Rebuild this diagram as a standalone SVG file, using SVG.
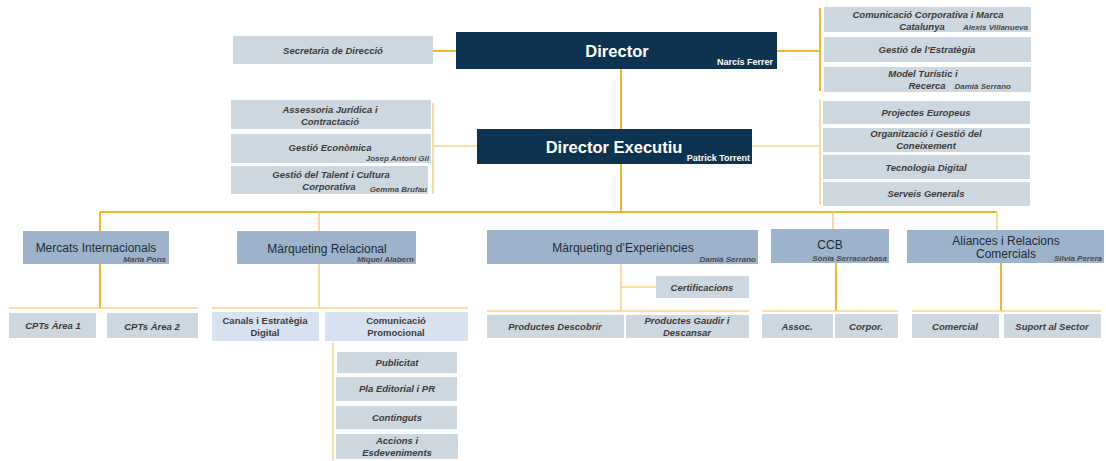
<svg xmlns="http://www.w3.org/2000/svg" width="1106" height="461" viewBox="0 0 1106 461">
<style>
.bg{fill:#ffffff}
.dir{fill:#0d3350}
.l2{fill:#9db3cb}
.gr{fill:#cdd7e0}
.lv{fill:#d8e1ef}
.c1{stroke:#f5b42a;stroke-width:2;fill:none}
.c2{stroke:#fbd488;stroke-width:1.6;fill:none}
text{font-family:"Liberation Sans","DejaVu Sans",Arial,sans-serif;text-anchor:middle}
.t{font-size:9.5px;font-style:italic;font-weight:bold;fill:#3c3c3c}
.n{font-size:8px;font-style:italic;font-weight:bold;fill:#4a4a4a;text-anchor:end}
.h1{font-size:16.5px;font-weight:bold;fill:#ffffff}
.hn{font-size:9px;font-weight:bold;fill:#ffffff;text-anchor:end}
.h2{font-size:12px;fill:#1f2a36}
.u{font-size:9.5px;font-weight:bold;fill:#3c3c3c}
</style>
<rect class="bg" x="0" y="0" width="1106" height="461"/>
<g id="connectors">
<path class="c1" d="M433,51 H456 M777,51 H820 M820,8 V91 M621,68 V129 M621,163 V212 M100,212 H997 M100,212 V231 M100,264 V308 M836,263 V311 M1001,263 V311"/>
<path class="c2" d="M433,103 V194 M433,146 H477 M752,146 H820 M820,100 V205 M9,308 H198 M319,212 V231 M319,264 V308 M212,308 H468 M621,264 V311 M621,287 H656 M487,311 H749 M833,212 V229 M762,311 H898 M997,212 V230 M912,311 H1101 M333,343 V460"/>
</g>
<g id="director">
<rect class="dir" x="456" y="32" width="321" height="37"/>
<text class="h1" x="617" y="57">Director</text>
<text class="hn" x="773" y="65">Narcís Ferrer</text>
</g>
<g id="director-executiu">
<rect class="dir" x="477" y="129" width="275" height="35"/>
<text class="h1" x="614" y="153">Director Executiu</text>
<text class="hn" x="750" y="161">Patrick Torrent</text>
</g>
<g id="secretaria">
<rect class="gr" x="233" y="36" width="200" height="28"/>
<text class="t" x="333" y="54">Secretaria de Direcció</text>
</g>
<g id="assessoria">
<rect class="gr" x="231" y="100" width="200" height="29"/>
<text class="t" x="330" y="113">Assessoria Jurídica i</text>
<text class="t" x="330" y="125">Contractació</text>
</g>
<g id="gestio-economica">
<rect class="gr" x="231" y="134" width="200" height="29"/>
<text class="t" x="330" y="151">Gestió Econòmica</text>
<text class="n" x="429" y="161">Josep Antoni Gil</text>
</g>
<g id="gestio-talent">
<rect class="gr" x="231" y="166" width="197" height="28"/>
<text class="t" x="331" y="178">Gestió del Talent i Cultura</text>
<text class="t" x="329" y="190">Corporativa</text>
<text class="n" x="427" y="192">Gemma Brufau</text>
</g>
<g id="comunicacio-corporativa">
<rect class="gr" x="824" y="7" width="207" height="25"/>
<text class="t" x="928" y="18">Comunicació Corporativa i Marca</text>
<text class="t" x="922" y="30">Catalunya</text>
<text class="n" x="1028" y="30">Alexis Villanueva</text>
</g>
<g id="gestio-estrategia">
<rect class="gr" x="824" y="37" width="207" height="25"/>
<text class="t" x="927" y="53">Gestió de l'Estratègia</text>
</g>
<g id="model-turistic">
<rect class="gr" x="824" y="67" width="207" height="25"/>
<text class="t" x="923" y="77">Model Turístic i</text>
<text class="t" x="927" y="89">Recerca</text>
<text class="n" x="1011" y="89">Damià Serrano</text>
</g>
<g id="projectes-europeus">
<rect class="gr" x="823" y="101" width="207" height="23"/>
<text class="t" x="926" y="116">Projectes Europeus</text>
</g>
<g id="organitzacio">
<rect class="gr" x="823" y="128" width="207" height="24"/>
<text class="t" x="926" y="137">Organització i Gestió del</text>
<text class="t" x="926" y="149">Coneixement</text>
</g>
<g id="tecnologia-digital">
<rect class="gr" x="823" y="155" width="207" height="24"/>
<text class="t" x="926" y="171">Tecnologia Digital</text>
</g>
<g id="serveis-generals">
<rect class="gr" x="823" y="182" width="207" height="24"/>
<text class="t" x="926" y="197">Serveis Generals</text>
</g>
<g id="mercats-internacionals">
<rect class="l2" x="23" y="231" width="146" height="33"/>
<text class="h2" x="96" y="252">Mercats Internacionals</text>
<text class="n" x="166" y="262">Maria Pons</text>
</g>
<g id="marqueting-relacional">
<rect class="l2" x="237" y="231" width="179" height="33"/>
<text class="h2" x="327" y="253">Màrqueting Relacional</text>
<text class="n" x="414" y="262">Miquel Alabern</text>
</g>
<g id="marqueting-experiencies">
<rect class="l2" x="487" y="230" width="271" height="34"/>
<text class="h2" x="623" y="252">Màrqueting d’Experiències</text>
<text class="n" x="756" y="262">Damià Serrano</text>
</g>
<g id="ccb">
<rect class="l2" x="771" y="229" width="118" height="34"/>
<text class="h2" x="830" y="249">CCB</text>
<text class="n" x="887" y="261">Sònia Serracarbasa</text>
</g>
<g id="aliances">
<rect class="l2" x="907" y="230" width="197" height="33"/>
<text class="h2" x="1006" y="245">Aliances i Relacions</text>
<text class="h2" x="1006" y="258">Comercials</text>
<text class="n" x="1102" y="261">Silvia Perera</text>
</g>
<g id="cpts-area-1">
<rect class="gr" x="9" y="313" width="87" height="25"/>
<text class="t" x="53" y="329">CPTs Àrea 1</text>
</g>
<g id="cpts-area-2">
<rect class="gr" x="107" y="313" width="91" height="25"/>
<text class="t" x="152" y="330">CPTs Àrea 2</text>
</g>
<g id="canals">
<rect class="lv" x="212" y="312" width="107" height="29"/>
<text class="u" x="265" y="324">Canals i Estratègia</text>
<text class="u" x="265" y="336">Digital</text>
</g>
<g id="comunicacio-promocional">
<rect class="lv" x="325" y="312" width="143" height="29"/>
<text class="u" x="396" y="324">Comunicació</text>
<text class="u" x="396" y="336">Promocional</text>
</g>
<g id="publicitat">
<rect class="gr" x="337" y="352" width="120" height="21"/>
<text class="t" x="397" y="366">Publicitat</text>
</g>
<g id="pla-editorial">
<rect class="gr" x="336" y="377" width="121" height="24"/>
<text class="t" x="397" y="392">Pla Editorial i PR</text>
</g>
<g id="continguts">
<rect class="gr" x="336" y="406" width="121" height="23"/>
<text class="t" x="397" y="421">Continguts</text>
</g>
<g id="accions">
<rect class="gr" x="336" y="434" width="122" height="25"/>
<text class="t" x="397" y="444">Accions i</text>
<text class="t" x="397" y="456">Esdeveniments</text>
</g>
<g id="certificacions">
<rect class="gr" x="656" y="276" width="93" height="22"/>
<text class="t" x="702" y="291">Certificacions</text>
</g>
<g id="productes-descobrir">
<rect class="gr" x="487" y="315" width="137" height="23"/>
<text class="t" x="555" y="330">Productes Descobrir</text>
</g>
<g id="productes-gaudir">
<rect class="gr" x="626" y="315" width="123" height="23"/>
<text class="t" x="687" y="324">Productes Gaudir i</text>
<text class="t" x="687" y="336">Descansar</text>
</g>
<g id="assoc">
<rect class="gr" x="762" y="314" width="71" height="24"/>
<text class="t" x="797" y="330">Assoc.</text>
</g>
<g id="corpor">
<rect class="gr" x="835" y="314" width="63" height="24"/>
<text class="t" x="866" y="330">Corpor.</text>
</g>
<g id="comercial">
<rect class="gr" x="912" y="314" width="87" height="24"/>
<text class="t" x="955" y="330">Comercial</text>
</g>
<g id="suport-sector">
<rect class="gr" x="1004" y="314" width="97" height="24"/>
<text class="t" x="1052" y="330">Suport al Sector</text>
</g>
</svg>
